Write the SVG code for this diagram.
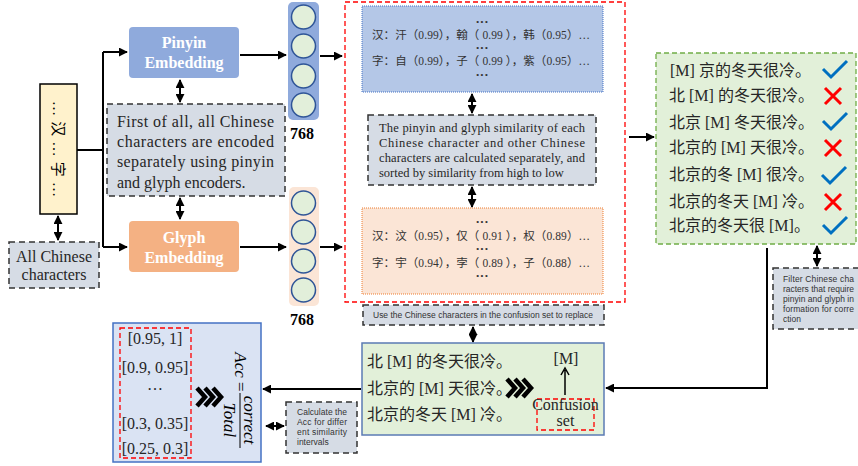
<svg xmlns="http://www.w3.org/2000/svg" width="858" height="466" viewBox="0 0 858 466">
<defs>
<marker id="ah" viewBox="0 0 10 10" refX="9" refY="5" markerWidth="9" markerHeight="9" markerUnits="userSpaceOnUse" orient="auto-start-reverse">
<path d="M0,0 L10,5 L0,10 z" fill="#000"/>
</marker>
<style>
.ser{font-family:"Liberation Serif","Noto Sans CJK SC",serif;}
.cjk{font-family:"Liberation Serif","Noto Sans CJK SC",serif;}
.sans{font-family:"Liberation Sans",Arial,sans-serif;}
.gray{fill:#d6dce5;stroke:#333;stroke-width:1.5;stroke-dasharray:6,4;}
.conn{fill:none;stroke:#000;stroke-width:2;}
.circ{fill:#e2efda;stroke:#2f5597;stroke-width:1.5;}
.emb{font-family:"Liberation Serif",serif;font-weight:bold;font-size:16px;fill:#fff;text-anchor:middle;}
.t16{font-size:16px;fill:#262626;}
.t12{font-size:12.5px;fill:#262626;}
.s9{font-size:8.5px;fill:#333;}
.mono{font-size:11.5px;fill:#333;}
.dots{font-size:13px;font-weight:bold;fill:#333;}
.redd{fill:none;stroke:#ff0000;stroke-width:1.3;stroke-dasharray:5,3;}
.chev{fill:none;stroke:#000;stroke-width:4.5;stroke-linejoin:miter;}
.ok{fill:none;stroke:#0070c0;stroke-width:3;}
.no{fill:none;stroke:#ff0000;stroke-width:3;}
</style>
</defs>

<!-- connectors -->
<g id="connectors">
<path class="conn" d="M77,150 H103 M103,52 V247"/>
<path class="conn" d="M103,52 H127" marker-end="url(#ah)"/>
<path class="conn" d="M103,247 H127" marker-end="url(#ah)"/>
<path class="conn" d="M58,216 V240" marker-start="url(#ah)" marker-end="url(#ah)"/>
<path class="conn" d="M180,80 V102" marker-start="url(#ah)" marker-end="url(#ah)"/>
<path class="conn" d="M180,198 V219" marker-start="url(#ah)" marker-end="url(#ah)"/>
<path class="conn" d="M240,55 H286" marker-end="url(#ah)"/>
<path class="conn" d="M240,247 H286" marker-end="url(#ah)"/>
<path class="conn" d="M320,56 H342" marker-end="url(#ah)"/>
<path class="conn" d="M320,247 H342" marker-end="url(#ah)"/>
<path class="conn" d="M472,94 V113" marker-start="url(#ah)" marker-end="url(#ah)"/>
<path class="conn" d="M472,187 V207" marker-start="url(#ah)" marker-end="url(#ah)"/>
<path class="conn" d="M629,137 H654" marker-end="url(#ah)"/>
<path class="conn" d="M817,246 V266" marker-start="url(#ah)" marker-end="url(#ah)"/>
<path class="conn" d="M767,248 V388 H606" marker-end="url(#ah)"/>
<path class="conn" d="M473,327 V342" marker-start="url(#ah)" marker-end="url(#ah)"/>
<path class="conn" d="M361,389 H263" marker-end="url(#ah)"/>
<path class="conn" d="M266,426 H284" marker-start="url(#ah)" marker-end="url(#ah)"/>
</g>

<!-- character column -->
<g id="chars">
<rect x="40" y="84" width="37" height="130" fill="#fff2cc" stroke="#000" stroke-width="1.5"/>
<text class="cjk" transform="translate(58,149) rotate(90)" text-anchor="middle" dominant-baseline="central" font-size="15" fill="#000" textLength="96" lengthAdjust="spacing">…汉…字…</text>
</g>

<g id="allchars">
<rect class="gray" x="9" y="242" width="90" height="46"/>
<text class="ser t16" x="54" y="262" text-anchor="middle" font-size="14">All Chinese</text>
<text class="ser t16" x="54" y="280" text-anchor="middle" font-size="14">characters</text>
</g>

<g id="pinyin">
<rect x="129" y="27" width="110" height="51" rx="4" fill="#8faadc"/>
<text class="emb" x="184" y="48">Pinyin</text>
<text class="emb" x="184" y="68">Embedding</text>
</g>

<g id="glyph">
<rect x="129" y="221" width="110" height="51" rx="4" fill="#f4b183"/>
<text class="emb" x="184" y="243">Glyph</text>
<text class="emb" x="184" y="263">Embedding</text>
</g>

<g id="note1">
<rect class="gray" x="107" y="104" width="178" height="92"/>
<text class="ser t16" x="117" y="127" textLength="157" lengthAdjust="spacing">First of all, all Chinese</text>
<text class="ser t16" x="117" y="147" textLength="157" lengthAdjust="spacing">characters are encoded</text>
<text class="ser t16" x="117" y="167" textLength="157" lengthAdjust="spacing">separately using pinyin</text>
<text class="ser t16" x="117" y="188">and glyph encoders.</text>
</g>

<g id="vec1">
<rect x="288" y="2" width="31" height="118" rx="5" fill="#8faadc"/>
<circle class="circ" cx="303.5" cy="17" r="12"/>
<circle class="circ" cx="303.5" cy="46" r="12"/>
<circle class="circ" cx="303.5" cy="76" r="12"/>
<circle class="circ" cx="303.5" cy="105" r="12"/>
<text class="ser" x="302" y="139" text-anchor="middle" font-size="16" font-weight="bold" fill="#000">768</text>
</g>

<g id="vec2">
<rect x="289" y="187" width="30" height="119" rx="5" fill="#fbe5d6"/>
<circle class="circ" cx="303.5" cy="203" r="12"/>
<circle class="circ" cx="303.5" cy="232" r="12"/>
<circle class="circ" cx="303.5" cy="261" r="12"/>
<circle class="circ" cx="303.5" cy="290" r="12"/>
<text class="ser" x="302" y="325" text-anchor="middle" font-size="16" font-weight="bold" fill="#000">768</text>
</g>

<g id="similarity">
<rect class="redd" x="345" y="2" width="280" height="300"/>
</g>

<g id="pinyinsim">
<rect x="362" y="6" width="241" height="86" fill="#b4c7e7" stroke="#4472c4" stroke-width="1" stroke-dasharray="1,1"/>
<text class="ser dots" x="482" y="26" text-anchor="middle">···</text>
<text class="cjk mono" x="372" y="39" textLength="218" lengthAdjust="spacing">汉：汗（0.99），翰（ 0.99 ），韩（0.95）…</text>
<text class="ser dots" x="482" y="52" text-anchor="middle">···</text>
<text class="cjk mono" x="372" y="65" textLength="218" lengthAdjust="spacing">字：自（0.99），子（ 0.99 ），紫（0.95）…</text>
<text class="ser dots" x="482" y="79" text-anchor="middle">···</text>
</g>

<g id="note2">
<rect class="gray" x="368" y="115" width="228" height="70"/>
<text class="ser t12" x="379" y="132" textLength="206" lengthAdjust="spacing">The pinyin and glyph similarity of each</text>
<text class="ser t12" x="379" y="147" textLength="206" lengthAdjust="spacing">Chinese character and other Chinese</text>
<text class="ser t12" x="379" y="162" textLength="206" lengthAdjust="spacing">characters are calculated separately, and</text>
<text class="ser t12" x="379" y="177">sorted by similarity from high to low</text>
</g>

<g id="glyphsim">
<rect x="362" y="208" width="241" height="86" fill="#fbe5d6" stroke="#ed7d31" stroke-width="1" stroke-dasharray="1,1"/>
<text class="ser dots" x="482" y="226" text-anchor="middle">···</text>
<text class="cjk mono" x="372" y="240" textLength="218" lengthAdjust="spacing">汉：汶（0.95），仅（ 0.91 ），权（0.89）…</text>
<text class="ser dots" x="482" y="253" text-anchor="middle">···</text>
<text class="cjk mono" x="372" y="267" textLength="218" lengthAdjust="spacing">字：宇（0.94），孛（ 0.89 ），子（0.88）…</text>
<text class="ser dots" x="482" y="280" text-anchor="middle">···</text>
</g>

<g id="candidates">
<rect x="656" y="53" width="200" height="191" fill="#e2f0d9" stroke="#70ad47" stroke-width="1.3" stroke-dasharray="5,3"/>
<g class="cjk t16">
<text x="670" y="76">[M] 京的冬天很冷。</text>
<text x="669" y="101">北 [M] 的冬天很冷。</text>
<text x="669" y="128">北京 [M] 冬天很冷。</text>
<text x="669" y="153">北京的 [M] 天很冷。</text>
<text x="669" y="180">北京的冬 [M] 很冷。</text>
<text x="669" y="207">北京的冬天 [M] 冷。</text>
<text x="669" y="231">北京的冬天很 [M]。</text>
</g>
<path class="ok" d="M823,69 L831,77 L847,61"/>
<path class="no" d="M825,88 L841,104 M841,88 L825,104"/>
<path class="ok" d="M823,121 L831,129 L847,113"/>
<path class="no" d="M825,140 L841,156 M841,140 L825,156"/>
<path class="ok" d="M822,175 L830,183 L846,167"/>
<path class="no" d="M825,194 L841,210 M841,194 L825,210"/>
<path class="ok" d="M823,225 L831,233 L847,217"/>
</g>

<g id="note3">
<rect class="gray" x="773" y="268" width="90" height="61"/>
<text class="sans s9" x="783" y="282" textLength="71" lengthAdjust="spacing">Filter Chinese cha</text>
<text class="sans s9" x="783" y="292" textLength="71" lengthAdjust="spacing">racters that require</text>
<text class="sans s9" x="783" y="302" textLength="71" lengthAdjust="spacing">pinyin and glyph in</text>
<text class="sans s9" x="783" y="312" textLength="71" lengthAdjust="spacing">formation for corre</text>
<text class="sans s9" x="783" y="322">ction</text>
</g>

<g id="note4">
<rect class="gray" x="363" y="305" width="241" height="20"/>
<text class="sans s9" x="373" y="318" textLength="220" lengthAdjust="spacing">Use the Chinese characters in the confusion set to replace</text>
</g>

<g id="replace">
<rect x="362" y="343" width="242" height="92" fill="#e2f0d9" stroke="#5b7bb4" stroke-width="1.5"/>
<g class="cjk t16">
<text x="367" y="367">北 [M] 的冬天很冷。</text>
<text x="367" y="394">北京的 [M] 天很冷。</text>
<text x="367" y="420">北京的冬天 [M] 冷。</text>
</g>
<path class="chev" d="M507,379 L515,388 L507,397 M515,379 L523,388 L515,397 M523,379 L531,388 L523,397"/>
<text class="ser t16" x="566" y="364" text-anchor="middle" font-size="14">[M]</text>
<path d="M565,395 V370 M561,375 L565,368 L569,375" fill="none" stroke="#000" stroke-width="1.5"/>
<rect class="redd" x="537" y="399" width="57" height="31"/>
<text class="ser t16" x="565.5" y="410" text-anchor="middle" font-size="12.5">Confusion</text>
<text class="ser t16" x="565.5" y="426" text-anchor="middle" font-size="12.5">set</text>
</g>

<g id="accuracy">
<rect x="113" y="323" width="148" height="139" fill="#dae3f3" stroke="#4472c4" stroke-width="1.5"/>
<rect class="redd" x="120" y="328" width="71" height="130"/>
<g class="ser t16" text-anchor="middle" font-size="16">
<text x="155" y="344">[0.95, 1]</text>
<text x="155" y="373">[0.9, 0.95]</text>
<text x="155" y="390">…</text>
<text x="155" y="429">[0.3, 0.35]</text>
<text x="155" y="454">[0.25, 0.3]</text>
</g>
<path class="chev" d="M197,388 L205,397 L197,406 M205,388 L213,397 L205,406 M213,388 L221,397 L213,406"/>
<g transform="translate(240,398) rotate(90)">
<text class="ser" x="-26" y="5" text-anchor="middle" font-size="17" fill="#000"><tspan font-style="italic">Acc</tspan> =</text>
<line x1="-5" y1="0" x2="50" y2="0" stroke="#000" stroke-width="1"/>
<text class="ser" x="22" y="-4" text-anchor="middle" font-size="17" font-style="italic" fill="#000">correct</text>
<text class="ser" x="22" y="16" text-anchor="middle" font-size="17" font-style="italic" fill="#000">Total</text>
</g>
</g>

<g id="note5">
<rect class="gray" x="286" y="402" width="71" height="51"/>
<text class="sans s9" x="297" y="415" textLength="50" lengthAdjust="spacing">Calculate the</text>
<text class="sans s9" x="297" y="425" textLength="50" lengthAdjust="spacing">Acc for differ</text>
<text class="sans s9" x="297" y="435" textLength="50" lengthAdjust="spacing">ent similarity</text>
<text class="sans s9" x="297" y="445">intervals</text>
</g>
</svg>
